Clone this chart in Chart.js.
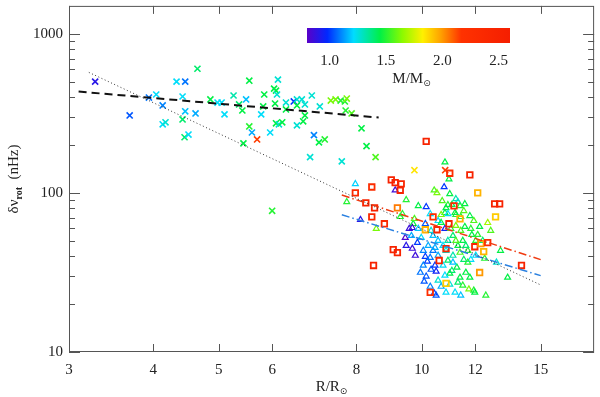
<!DOCTYPE html>
<html>
<head>
<meta charset="utf-8">
<script src="https://cdn.jsdelivr.net/npm/chart.js"></script>
<style>
  html, body { margin: 0; padding: 0; background: #fff; }
</style>
</head>
<body>
<canvas id="grafico" width="600" height="397"></canvas>
<script>
// crosses (R < 9)
const radioCruces = [3.28, 3.69, 3.94, 4.04, 4.13, 4.13, 4.17, 4.33, 4.46, 4.65, 4.42, 4.46, 4.62, 4.42, 4.45, 4.51, 4.86, 4.98, 5.05, 5.10,
  5.26, 5.36, 5.42, 5.49, 5.55, 5.55, 5.60, 5.70, 5.44, 5.78, 5.82, 5.84, 5.96, 6.06, 6.08, 6.14, 6.21, 6.04, 6.08, 6.10,
  6.12, 6.29, 6.29, 6.46, 6.53, 6.64, 6.71, 6.53, 6.87, 6.71, 6.67, 6.53, 7.06, 6.92, 7.04, 7.18, 6.83, 7.61, 7.33, 7.45,
  7.58, 7.69, 7.74, 7.71, 7.87, 8.14, 8.28, 8.54, 9.75, 10.83, 6.00];
const nuCruces = [501, 307, 398, 416, 355, 270, 278, 501, 501, 604, 404, 326, 316, 290, 224, 233, 387, 370, 370, 312,
  410, 360, 330, 387, 508, 262, 240, 217, 205, 312, 350, 416, 240, 365, 274, 270, 278, 453, 440, 416,
  516, 370, 335, 376, 387, 387, 360, 355, 410, 307, 282, 266, 350, 231, 208, 217, 168, 158, 381, 387,
  381, 376, 392, 330, 316, 255, 197, 168, 139, 139, 77.2];
const masaCruces = [0.9, 1.04, 1.08, 1.22, 1.1, 1.22, 1.27, 1.22, 1.08, 1.4, 1.22, 1.18, 1.15, 1.4, 1.4, 1.22, 1.45, 1.22, 1.22, 1.22,
  1.32, 1.4, 1.45, 1.18, 1.45, 1.5, 1.15, 2.15, 1.45, 1.22, 1.45, 1.45, 1.22, 1.45, 1.45, 1.27, 1.45, 1.45, 1.45, 1.27,
  1.27, 1.27, 1.45, 1.0, 1.27, 1.27, 1.27, 1.45, 1.27, 1.45, 1.45, 1.27, 1.27, 1.1, 1.45, 1.5, 1.27, 1.27, 1.62, 1.62,
  1.5, 1.5, 1.62, 1.5, 1.56, 1.45, 1.45, 1.56, 1.85, 2.15, 1.5];

// squares
const radioCuadros = [10.15, 11.78, 11.0, 12.1, 9.01, 9.13, 9.32, 9.29, 8.43, 7.97, 8.26, 8.43, 8.51, 8.80, 9.07, 9.20, 8.48, 9.20, 10.12,
  10.39, 10.53, 10.97, 11.16, 11.39, 10.86, 10.61, 11.98, 12.23, 12.52, 12.35, 12.18, 10.86, 10.29, 14.05, 12.82, 13.04, 12.86];
const nuCuadros = [211, 130, 133, 100, 121, 116, 114, 104, 109, 100, 86.6, 70.8, 80.5, 64, 44, 42.2, 35, 80.5, 58.7,
  70.8, 58.7, 64, 82.9, 68.8, 44.7, 37.6, 45.9, 48, 48.7, 42.8, 31.6, 27, 23.7, 35, 85.3, 85.3, 70.8];
const masaCuadros = [2.5, 2.5, 2.25, 1.95, 2.5, 2.5, 2.45, 2.5, 2.3, 2.35, 2.5, 2.4, 2.5, 2.4, 2.5, 2.5, 2.5, 2.05, 1.95,
  2.2, 2.4, 2.5, 2.3, 1.95, 2.45, 2.45, 2.5, 2.0, 2.3, 1.95, 2.0, 1.9, 2.25, 2.5, 2.5, 2.5, 1.9];

// triangles
const radioTriangulos = [7.97, 9.13, 10.82, 10.97, 10.79, 10.43, 10.53, 11.0, 9.48, 11.23, 7.74, 8.11, 8.56, 9.71, 9.29, 10.15, 9.58, 9.68, 9.45, 9.68,
  9.78, 10.12, 10.19, 10.08, 10.15, 10.32, 10.46, 10.5, 10.57, 10.86, 10.43, 10.5, 11.2, 11.42, 11.74, 11.94, 11.98, 12.44, 13.4, 10.93,
  11.23, 11.42, 11.78, 12.18, 11.58, 11.82, 11.86, 11.82, 11.54, 11.27, 11.0, 11.08, 11.62, 11.78, 11.39, 11.08, 11.31, 11.58, 11.39, 10.86,
  10.82, 10.93, 11.2, 10.68, 9.98, 10.32, 10.82, 10.12, 12.31, 9.65, 9.88, 10.22, 10.39, 10.57, 10.75, 10.93, 11.12, 11.31, 11.5, 11.7,
  12.02, 11.12, 10.75, 10.93, 10.57, 10.05, 9.95, 10.29, 10.68, 11.0, 11.31, 12.39, 12.65, 12.1, 11.94, 12.52, 11.42, 11.23, 10.57, 10.39,
  10.05, 9.85, 9.48, 9.36, 9.75, 9.88, 10.29, 10.72, 12.9, 13.08, 11.62, 10.82, 11.5, 10.68, 11.04, 11.23, 10.86, 11.39, 10.46, 11.7,
  11.12, 10.29, 11.54, 12.02];
const nuTriangulos = [114, 104, 156, 122, 109, 104, 100, 98.6, 90.4, 91.7, 87.8, 67.8, 59.6, 64, 70.8, 81.7, 59.6, 60.4, 52.3, 44.7,
  40.4, 39.8, 37.1, 27.8, 29.9, 33, 35, 32.1, 28.2, 23.7, 23.4, 22.7, 23.7, 22.7, 24.8, 24.4, 23.7, 22.7, 29.4, 84.1,
  72.9, 70.8, 71.8, 61.3, 61.3, 59.6, 54.6, 38.1, 38.1, 34, 31.2, 32.5, 31.6, 29.4, 29.4, 84.3, 87.8, 85.3, 82.9, 80.5,
  75, 73.9, 75, 72.9, 52.3, 57.9, 59.6, 64, 50.1, 53.8, 59.6, 46.6, 43.4, 40.4, 46.6, 50.1, 53.8, 46.6, 50.1, 43.4,
  40.4, 40.4, 35, 37.6, 50.1, 35, 31.6, 25.8, 25.8, 26.6, 27.4, 38.7, 57.9, 54.6, 66.8, 64.9, 57.9, 62.2, 66.8, 53.8,
  43.4, 48.7, 46.6, 73.9, 68.8, 82.9, 73.9, 89.1, 36.6, 43.4, 46.6, 30.3, 26.2, 65, 59.6, 50.1, 43.4, 42.2, 45.3, 36.6,
  36.6, 39.2, 77.2, 50.1];
const masaTriangulos = [1.2, 0.86, 1.45, 1.45, 1.0, 1.56, 1.62, 1.45, 1.5, 1.32, 1.5, 0.9, 1.62, 1.45, 1.5, 1.0, 0.86, 0.86, 0.82, 0.86,
  0.86, 1.0, 1.0, 1.04, 1.04, 1.04, 1.0, 0.95, 1.27, 1.22, 1.0, 1.04, 1.22, 1.18, 1.62, 1.5, 1.45, 1.5, 1.45, 1.5,
  1.5, 1.5, 1.45, 1.45, 1.45, 1.5, 1.45, 1.22, 1.4, 1.45, 1.45, 1.4, 1.45, 1.45, 1.45, 1.45, 1.27, 1.45, 1.5, 1.45,
  1.45, 1.22, 1.45, 1.62, 1.22, 1.27, 0.95, 1.04, 1.4, 1.15, 1.18, 1.15, 1.08, 1.15, 1.22, 1.32, 1.4, 1.45, 1.45, 1.5,
  1.22, 1.32, 1.22, 1.4, 1.18, 1.1, 1.08, 1.1, 1.15, 1.27, 1.4, 1.5, 1.56, 1.5, 1.56, 1.68, 1.56, 1.62, 1.22, 1.18,
  1.1, 1.0, 0.9, 1.5, 1.56, 1.45, 1.22, 1.56, 1.27, 1.45, 1.4, 1.22, 1.5, 1.45, 1.5, 1.56, 1.27, 1.56, 1.15, 1.5,
  1.18, 1.08, 1.56, 1.5];

// fitted relations
const lineaNegraR = [3.10, 8.63];
const lineaNegraNu = [434, 298];
const lineaPuntosR = [3.21, 15];
const lineaPuntosNu = [573, 26.4];
const lineaRojaR = [7.61, 15];
const lineaRojaNu = [97, 38.1];
const lineaAzulR = [7.61, 15];
const lineaAzulNu = [72.9, 30.2];

// axes
const ticksX = [3, 4, 5, 6, 8, 10, 12, 15];
const ticksY = [10, 100, 1000];
const ticksYMenores = [20, 30, 40, 50, 60, 70, 80, 90, 200, 300, 400, 500, 600, 700, 800, 900];
const ticksMasa = [1.0, 1.5, 2.0, 2.5];
const masaMin = 0.8;
const masaMax = 2.6;

// rainbow colour table [t, r, g, b]
const paradasColor = [
  [0.00, 90, 0, 200],
  [0.10, 0, 40, 255],
  [0.23, 0, 220, 255],
  [0.36, 0, 240, 70],
  [0.47, 140, 250, 0],
  [0.57, 255, 240, 0],
  [0.66, 255, 160, 0],
  [0.76, 255, 50, 0],
  [1.00, 245, 30, 0]
];

const colorT = (t) => {
  t = Math.min(1, Math.max(0, t));
  for (let i = 1; i < paradasColor.length; i++) {
    const a = paradasColor[i - 1], b = paradasColor[i];
    if (t <= b[0]) {
      const f = (t - a[0]) / (b[0] - a[0]);
      const c = [1, 2, 3].map(k => Math.round(a[k] + (b[k] - a[k]) * f));
      return `rgb(${c[0]},${c[1]},${c[2]})`;
    }
  }
  return "rgb(245,30,0)";
};
const colorMasa = (m) => colorT((m - masaMin) / (masaMax - masaMin));

const puntos = (xs, ys) => xs.map((x, i) => ({ x: x, y: ys[i] }));
const fuente = "'Liberation Serif', 'Times New Roman', serif";

// draws a row of text pieces (some lowered as subscripts), centred on 0
const textoPartes = (ctx, partes) => {
  let total = 0;
  partes.forEach(p => { ctx.font = p.f; total += ctx.measureText(p.t).width; });
  let x = -total / 2;
  partes.forEach(p => {
    ctx.font = p.f;
    ctx.fillText(p.t, x, p.dy);
    x += ctx.measureText(p.t).width;
  });
};

const marco = {
  id: "marco",
  afterDraw(chart) {
    const ctx = chart.ctx;
    const area = chart.chartArea;
    const ex = chart.scales.x, ey = chart.scales.y;
    ctx.save();
    ctx.strokeStyle = "#555";
    ctx.lineWidth = 1;
    ctx.strokeRect(area.left + 0.5, area.top + 0.5, area.right - area.left - 1, area.bottom - area.top - 1);
    ctx.beginPath();
    ticksX.forEach(v => {
      const px = Math.round(ex.getPixelForValue(v)) + 0.5;
      ctx.moveTo(px, area.bottom); ctx.lineTo(px, area.bottom - 8);
      ctx.moveTo(px, area.top); ctx.lineTo(px, area.top + 8);
    });
    ticksY.forEach(v => {
      const py = Math.round(ey.getPixelForValue(v)) + 0.5;
      ctx.moveTo(area.left, py); ctx.lineTo(area.left + 11, py);
      ctx.moveTo(area.right, py); ctx.lineTo(area.right - 11, py);
    });
    ticksYMenores.forEach(v => {
      const py = Math.round(ey.getPixelForValue(v)) + 0.5;
      ctx.moveTo(area.left, py); ctx.lineTo(area.left + 6, py);
      ctx.moveTo(area.right, py); ctx.lineTo(area.right - 6, py);
    });
    ctx.stroke();

    // axis titles
    ctx.fillStyle = "#222";
    ctx.textBaseline = "alphabetic";
    ctx.textAlign = "left";
    ctx.save();
    ctx.translate((area.left + area.right) / 2, 391);
    textoPartes(ctx, [
      { t: "R/R", f: `15px ${fuente}`, dy: 0 },
      { t: "\u2299", f: "9px 'DejaVu Sans'", dy: 3 }
    ]);
    ctx.restore();
    ctx.save();
    ctx.translate(18, (area.top + area.bottom) / 2);
    ctx.rotate(-Math.PI / 2);
    textoPartes(ctx, [
      { t: "\u03b4\u03bd", f: `15px ${fuente}`, dy: 0 },
      { t: "rot", f: `bold 10px ${fuente}`, dy: 4 },
      { t: "  (nHz)", f: `15px ${fuente}`, dy: 0 }
    ]);
    ctx.restore();

    // colour bar
    const x0 = 307, x1 = 510, y0 = 28, y1 = 43;
    const grad = ctx.createLinearGradient(x0, 0, x1, 0);
    paradasColor.forEach(p => grad.addColorStop(p[0], `rgb(${p[1]},${p[2]},${p[3]})`));
    ctx.fillStyle = grad;
    ctx.fillRect(x0, y0, x1 - x0, y1 - y0);
    ctx.fillStyle = "#222";
    ctx.font = `15px ${fuente}`;
    ctx.textAlign = "center";
    ticksMasa.forEach(m => {
      const px = x0 + (m - masaMin) / (masaMax - masaMin) * (x1 - x0);
      ctx.fillText(m.toFixed(1), px, 65);
    });
    ctx.textAlign = "left";
    ctx.save();
    ctx.translate((x0 + x1) / 2 + 3, 83);
    textoPartes(ctx, [
      { t: "M/M", f: `15px ${fuente}`, dy: 0 },
      { t: "\u2299", f: "9px 'DejaVu Sans'", dy: 3 }
    ]);
    ctx.restore();
    ctx.restore();
  }
};

const lineaBase = { type: "line", showLine: true, pointRadius: 0, fill: false, tension: 0 };

const datasets = [
  { ...lineaBase, data: puntos(lineaNegraR, lineaNegraNu), borderColor: "#111", borderWidth: 2, borderDash: [8, 5] },
  { ...lineaBase, data: puntos(lineaPuntosR, lineaPuntosNu), borderColor: "#333", borderWidth: 1, borderDash: [1, 2.5] },
  { ...lineaBase, data: puntos(lineaRojaR, lineaRojaNu), borderColor: "#f03a10", borderWidth: 1.5, borderDash: [8, 3, 1.5, 3] },
  { ...lineaBase, data: puntos(lineaAzulR, lineaAzulNu), borderColor: "#2a80e0", borderWidth: 1.5, borderDash: [8, 3, 1.5, 3] },
  {
    data: puntos(radioCuadros, nuCuadros), pointStyle: "rect", pointRadius: 3.9, borderWidth: 1.8,
    pointBorderColor: masaCuadros.map(colorMasa), pointBackgroundColor: "rgba(0,0,0,0)"
  },
  {
    data: puntos(radioCruces, nuCruces), pointStyle: "crossRot", pointRadius: 4.3, borderWidth: 1.6,
    pointBorderColor: masaCruces.map(colorMasa), pointBackgroundColor: "rgba(0,0,0,0)"
  },
  {
    data: puntos(radioTriangulos, nuTriangulos), pointStyle: "triangle", pointRadius: 3.4, borderWidth: 1.2,
    pointBorderColor: masaTriangulos.map(colorMasa), pointBackgroundColor: "rgba(0,0,0,0)"
  }
];

const grafico = new Chart(document.getElementById("grafico"), {
  type: "scatter",
  data: { datasets },
  options: {
    responsive: false,
    animation: false,
    devicePixelRatio: 1,
    layout: { padding: { top: 4, right: 4, left: 0, bottom: 0 } },
    plugins: { legend: { display: false }, tooltip: { enabled: false } },
    scales: {
      x: {
        type: "logarithmic", min: 3, max: 18,
        grid: { display: false, drawTicks: false },
        border: { display: false },
        afterBuildTicks: (eje) => { eje.ticks = ticksX.map(v => ({ value: v })); },
        afterFit: (eje) => { eje.height = 45; eje.paddingLeft = 0; eje.paddingRight = 0; },
        ticks: {
          autoSkip: false, maxRotation: 0, padding: 9, color: "#222",
          font: { family: fuente, size: 15 },
          callback: (v) => String(v)
        }
      },
      y: {
        type: "logarithmic", min: 10, max: 1500,
        grid: { display: false, drawTicks: false },
        border: { display: false },
        afterBuildTicks: (eje) => { eje.ticks = ticksY.map(v => ({ value: v })); },
        afterFit: (eje) => { eje.width = 69; eje.paddingTop = 0; eje.paddingBottom = 0; },
        ticks: {
          autoSkip: false, padding: 6, color: "#222",
          font: { family: fuente, size: 15 },
          callback: (v) => String(v)
        }
      }
    }
  },
  plugins: [marco]
});
</script>
</body>
</html>
